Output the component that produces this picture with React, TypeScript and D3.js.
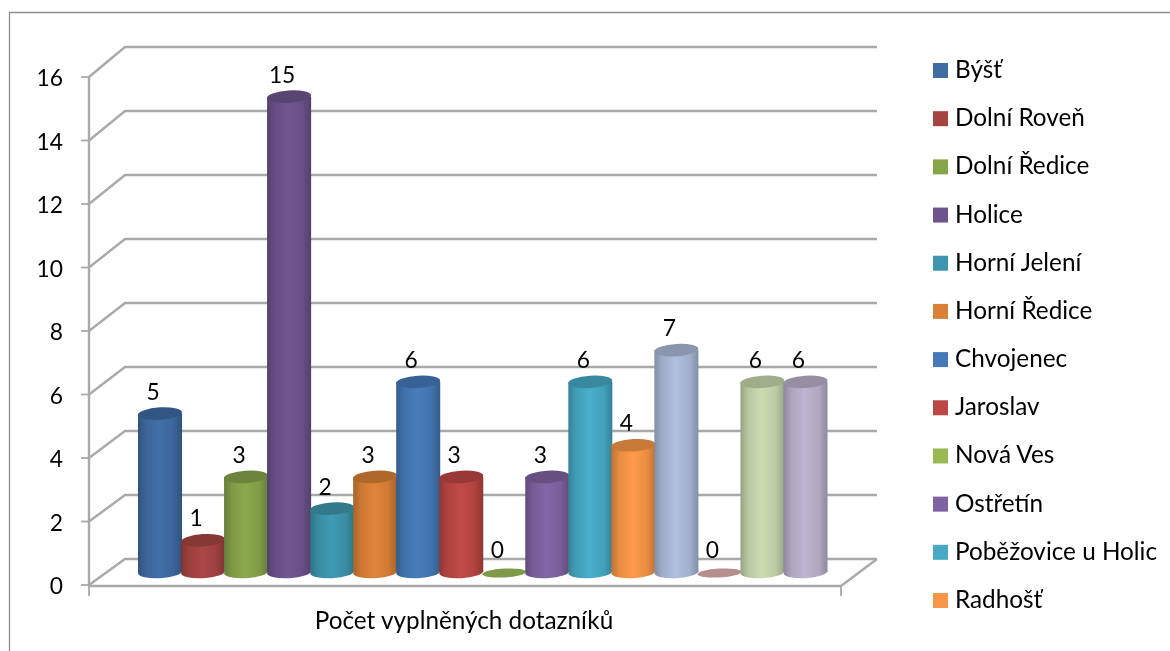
import React from "react";
import * as d3 from "d3";

const legendNames = ["Býšť","Dolní Roveň","Dolní Ředice","Holice","Horní Jelení","Horní Ředice","Chvojenec","Jaroslav","Nová Ves","Ostřetín","Poběžovice u Holic","Radhošť"];
const barValues = [5,1,3,15,2,3,6,3,0,3,6,4,7,0,6,6];
const barColors = ["#3f6ca3","#a64442","#86a44a","#6e548d","#3d96ae","#da8137","#4579b8","#bc4744","#98b954","#7f63a1","#46aac5","#f79646","#aabad7","#d9aaa9","#c6d6ac","#bbb0cb"];
const yTicks = d3.range(0, 17, 2);
const axisTitle = "Počet vyplněných dotazníků";

const W = 1170, H = 651;
const yFront = d3.scaleLinear().domain([0,16]).range([585,77]);
const yBack = d3.scaleLinear().domain([0,16]).range([559,47]);
const yBar = d3.scaleLinear().domain([0,16]).range([572,65]);
const xBar = d3.scaleBand<number>().domain(d3.range(barValues.length)).range([138.5,827]).padding(0);
const yLegend = d3.scalePoint<string>().domain(legendNames).range([71,601]);
const gridColor = "#a9a9a9";
const font = "Lato, Carlito, 'Open Sans', sans-serif";
const RY = 6.2;
const TILT = -3.5;
const textSize = 24.3;
const numSize = 22.8;

export default function App() {
  const bw = xBar.bandwidth();
  return (
    <svg width={W} height={H} viewBox={`0 0 ${W} ${H}`} style={{position:"absolute",left:0,top:0,display:"block",background:"#fff"}} fontFamily={font}>
      <defs>
        <filter id="soft" x="-10%" y="-10%" width="120%" height="120%"><feGaussianBlur stdDeviation="0.7"/></filter>
        <filter id="softL" x="-5%" y="-50%" width="110%" height="200%"><feGaussianBlur stdDeviation="0.5"/></filter>
        {barColors.map((c,i)=>{
          const dark = d3.color(c)!.darker(0.75).formatHex();
          const mid = d3.color(c)!.brighter(0.08).formatHex();
          return (
            <linearGradient key={i} id={`g${i}`} x1="0" x2="1" y1="0" y2="0">
              <stop offset="0" stopColor={dark}/>
              <stop offset="0.18" stopColor={d3.color(c)!.darker(0.2).formatHex()}/>
              <stop offset="0.48" stopColor={mid}/>
              <stop offset="0.8" stopColor={d3.color(c)!.darker(0.15).formatHex()}/>
              <stop offset="1" stopColor={dark}/>
            </linearGradient>
          );
        })}
      </defs>
      <path d={`M9.5,${H}V12.5H${W}`} fill="none" stroke="#8e8e8e" strokeWidth={1.3}/>
      <g stroke={gridColor} strokeWidth={2.4} fill="none" filter="url(#softL)">
        {yTicks.map(t=>(
          <path key={t} d={`M89,${yFront(t)}L125,${yBack(t)}H877`}/>
        ))}
        <path d={`M89,${yFront(0)}V${yFront(16)}`}/>
        <path d={`M89,${yFront(0)+1}H841L877,${yBack(0)}`}/>
        {yTicks.map(t=>(<path key={t} d={`M81,${yFront(t)}H89`} strokeWidth={1.8}/>))}
        <path d={`M89,${yFront(0)}V596M841,${yFront(0)}V596`} strokeWidth={1.8}/>
      </g>
      <g filter="url(#soft)">
        {barValues.map((v,i)=>{
          const x = xBar(i)!, cx = x+bw/2, base = yBar(0), top = yBar(v);
          const rx = bw/2 + 0.5;
          const topCol = d3.color(barColors[i])!.darker(0.6).formatHex();
          if (v===0) return (
            <ellipse key={i} cx={cx} cy={base+1} rx={rx} ry={4.4} fill={d3.color(barColors[i])!.darker(0.5).formatHex()} transform={`rotate(${TILT} ${cx} ${base+1})`}/>
          );
          return (
            <g key={i}>
              <ellipse cx={cx} cy={base} rx={rx} ry={RY} fill={`url(#g${i})`} transform={`rotate(${TILT} ${cx} ${base})`}/>
              <rect x={cx-rx} y={top} width={rx*2} height={base-top} fill={`url(#g${i})`}/>
              <ellipse cx={cx} cy={top} rx={rx} ry={RY} fill={topCol} transform={`rotate(${TILT} ${cx} ${top})`}/>
            </g>
          );
        })}
      </g>
      <g fontSize={numSize} fill="#000" textAnchor="middle">
        {barValues.map((v,i)=>(
          <text key={i} x={xBar(i)!+bw/2-7} y={yBar(v)-14}>{v}</text>
        ))}
      </g>
      <g fontSize={numSize} fill="#000" textAnchor="end">
        {yTicks.map(t=>(<text key={t} x={63} y={yFront(t)+9}>{t}</text>))}
      </g>
      <text x={464} y={629} fontSize={textSize} textAnchor="middle" fill="#000">{axisTitle}</text>
      <g>
        {legendNames.map((n,i)=>(
          <g key={n}>
            <rect x={933} y={yLegend(n)!-8} width={15} height={15} fill={barColors[i]}/>
            <text x={955} y={yLegend(n)!+7} fontSize={textSize} fill="#000">{n}</text>
          </g>
        ))}
      </g>
    </svg>
  );
}
